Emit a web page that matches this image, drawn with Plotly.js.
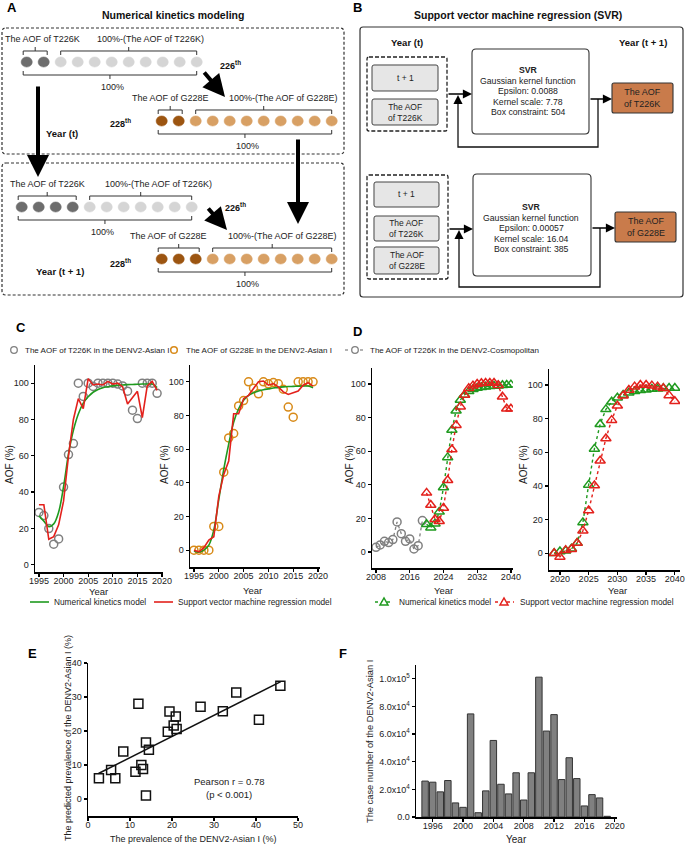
<!DOCTYPE html>
<html>
<head>
<meta charset="utf-8">
<script src="https://cdn.plot.ly/plotly-3.0.1.min.js"></script>
<style>
  html, body { margin: 0; padding: 0; background: #fff; }
  #plot { width: 688px; height: 849px; }
</style>
</head>
<body>
<div id="plot"></div>
<script>
// ---- data ----
var yearsC = [1995, 1996, 1997, 1998, 1999, 2000, 2001, 2002, 2003, 2004, 2005, 2006, 2007,
              2008, 2009, 2010, 2011, 2012, 2013, 2014, 2015, 2016, 2017, 2018, 2019];
var t226kAsian = [28.8, 27.1, 19.9, 11.3, 14.2, 42.8, 60.7, 66.7, 100, 92.7, 100, 98.2, 100,
                  100, 100, 100, 99.5, 98.5, 95.6, 85.1, 80.5, 100, 100, 100, 94.4];
var nkmT226kAsian = [27, 24, 21, 22.5, 29, 43, 61, 74, 83, 89, 92.5, 95, 96.5,
                     97.5, 98, 98.5, 98.8, 99, 99.2, 99.3, 99.4, 99.5, 99.5, 99.5, 97.5];
var svrT226kAsian = [33, 33, 14, 15.5, 22, 35, 60, 80, 91.5, 86, 102.5, 99, 99.5,
                     99, 101, 99.5, 100, 98, 88.5, 92, 95.5, 81, 98.5, 101, 96];
var g228eAsian = [0, 0, 0, 0, 14.1, 14.1, 46.3, 66.7, 69.3, 85.7, 88.9, 100, 96.2,
                  92.9, 100, 98.8, 99.6, 98.8, 95.6, 85, 79, 100, 100, 100, 100];
var nkmG228eAsian = [-0.5, -1.2, 0, 3, 12, 30, 48, 63, 76, 84, 89, 92, 93.5,
                     94.5, 95.3, 95.8, 96.3, 96.7, 97, 97.2, 97.3, 97.4, 97.5, 97.5, 96.5];
var svrG228eAsian = [0, -1, 1.5, 6, 8, 32, 45, 53, 81, 81, 90, 92, 96,
                     100, 100.5, 98, 99, 97, 94, 92.5, 93.5, 94.5, 98, 99.5, 97.5];

var yearsDObs = [2008, 2009, 2010, 2011, 2012, 2013, 2014, 2015, 2016, 2017, 2018, 2019];
var t226kCosmo = [2.8, 4.2, 6.4, 5.6, 7.4, 17.9, 10.9, 6.4, 7.8, 1.8, 3.8, 18.7];
var yearsDFore = [2020, 2021, 2022, 2023, 2024, 2025, 2026, 2027, 2028, 2029, 2030,
                  2031, 2032, 2033, 2034, 2035, 2036, 2037, 2038, 2039, 2040];
var nkmT226kCosmo = [16.5, 14.5, 16.9, 23.9, 38.4, 56.3, 72.6, 84.1, 90.5, 93.4, 95.6,
                     96.8, 97.6, 98, 98.4, 98.6, 98.8, 99, 99.2, 99.4, 99.6];
var svrT226kCosmo = [35.2, 28, 19.5, 18.3, 26.2, 42.7, 61, 75.5, 86.5, 93.4, 97.4,
                     99, 100, 100.4, 100.6, 100.6, 100.6, 99.2, 92.4, 85.3, 85.3];
var yearsDG = [2019, 2020, 2021, 2022, 2023, 2024, 2025, 2026, 2027, 2028, 2029, 2030,
               2031, 2032, 2033, 2034, 2035, 2036, 2037, 2038, 2039, 2040];
var nkmG228eCosmo = [0, 1, 1.4, 2.6, 6, 18.3, 40.6, 62, 76.7, 85.5, 90, 92.4,
                     94, 95.4, 96.2, 96.8, 97.2, 97.6, 97.8, 98, 98.2, 98.2];
var svrG228eCosmo = [0, -2.2, 1.8, 2.4, 6, 13.3, 25.4, 40.2, 55, 68.2, 79.1, 87.7,
                     93.6, 97, 99, 100, 100, 99.6, 99, 98, 93.8, 90.3];

var prevObserved = [2.6, 5.5, 6.5, 8.4, 12.0, 12.7, 13.1, 11.3, 13.8, 14.5, 13.8, 19.0,
                    19.4, 20.9, 20.4, 21.1, 26.8, 32.1, 35.3, 40.7, 45.8];
var prevPredicted = [6.1, 8.5, 6.1, 14.0, 28.0, 10.0, 8.8, 8.0, 16.6, 14.5, 1.0, 19.8,
                     25.7, 24.3, 21.6, 20.6, 27.1, 25.8, 31.3, 23.3, 33.3];
var fitX = [2.5, 45.9];
var fitY = [7.5, 34.5];

var caseYears = [1995, 1996, 1997, 1998, 1999, 2000, 2001, 2002, 2003, 2004, 2005, 2006, 2007,
                 2008, 2009, 2010, 2011, 2012, 2013, 2014, 2015, 2016, 2017, 2018, 2019];
var caseCounts = [26000, 25200, 18200, 26400, 10200, 7000, 74600, 3100, 18900, 55400, 23700, 16700, 32000,
                  12300, 32000, 101200, 62200, 74100, 27100, 42900, 27800, 8000, 16200, 13800, 500];
var caseTickVals = [0, 20000, 40000, 60000, 80000, 100000];
var caseTickText = ['0.0', '2.0x10<sup>4</sup>', '4.0x10<sup>4</sup>', '6.0x10<sup>4</sup>',
                    '8.0x10<sup>4</sup>', '1.0x10<sup>5</sup>'];

// ---- helpers (page pixels -> paper) ----
var W = 688, H = 849;
var FONT = 'Arial, "Liberation Sans", sans-serif';
var GREEN = '#1f9a1f', RED = '#e3211c', GRAY = '#808080', ORANGE = '#d88a18';
function X(p) { return p / W; }
function Y(p) { return 1 - p / H; }
function pt(x, y) { return X(x).toFixed(5) + ',' + Y(y).toFixed(5); }

var shapes = [];
var notes = [];

function label(x, y, s, size, opt) {
  opt = opt || {};
  notes.push({xref: 'paper', yref: 'paper', x: X(x), y: Y(y), text: s, showarrow: false,
    xanchor: opt.anchor || 'center', yanchor: 'middle', textangle: opt.angle || 0, align: 'center',
    font: {family: FONT, size: size, color: opt.color || '#222'}});
}
function poly(pts, color, width, dash) {
  shapes.push({type: 'path', xref: 'paper', yref: 'paper', layer: 'above',
    path: 'M' + pts.map(function (p) { return pt(p[0], p[1]); }).join(' L'),
    line: {color: color || '#222', width: width || 1, dash: dash || 'solid'}});
}
function roundRect(x0, y0, x1, y1, r, color, width, dash, fill) {
  var d = 'M' + pt(x0 + r, y0) + ' L' + pt(x1 - r, y0) + ' Q' + pt(x1, y0) + ' ' + pt(x1, y0 + r) +
    ' L' + pt(x1, y1 - r) + ' Q' + pt(x1, y1) + ' ' + pt(x1 - r, y1) +
    ' L' + pt(x0 + r, y1) + ' Q' + pt(x0, y1) + ' ' + pt(x0, y1 - r) +
    ' L' + pt(x0, y0 + r) + ' Q' + pt(x0, y0) + ' ' + pt(x0 + r, y0) + ' Z';
  shapes.push({type: 'path', xref: 'paper', yref: 'paper', path: d, fillcolor: fill || 'rgba(0,0,0,0)',
    line: {color: color, width: width, dash: dash || 'solid'}});
}
function ellipse(cx, cy, rx, ry, fill, color, lw) {
  shapes.push({type: 'circle', xref: 'paper', yref: 'paper', x0: X(cx - rx), x1: X(cx + rx),
    y0: Y(cy + ry), y1: Y(cy - ry), fillcolor: fill, line: {color: color, width: lw}});
}
function arrow(tx, ty, fx, fy, width, size, head) {
  notes.push({xref: 'paper', yref: 'paper', x: X(tx), y: Y(ty), ax: fx - tx, ay: fy - ty,
    axref: 'pixel', ayref: 'pixel', text: '', showarrow: true, arrowhead: head, arrowwidth: width,
    arrowsize: size, arrowcolor: '#000', standoff: 0, startstandoff: 0});
}
function triangle(cx, cy, color) {
  shapes.push({type: 'path', xref: 'paper', yref: 'paper',
    path: 'M' + pt(cx - 4, cy + 3) + ' L' + pt(cx + 4, cy + 3) + ' L' + pt(cx, cy - 4) + ' Z',
    fillcolor: '#fff', line: {color: color, width: 1.5}});
}

// ---- panel A: numerical kinetics schematic ----
label(12, 8, '<b>A</b>', 13, {color: '#000'});
label(173, 15, '<b>Numerical kinetics modeling</b>', 10.5, {color: '#111'});
roundRect(2, 28, 344, 154, 4, '#333', 1.2, '3px,2px');
roundRect(2, 163, 344, 295, 4, '#333', 1.2, '3px,2px');

var beadRows = [
  {x0: 26.7, cy: 62, dark: 2, n: 11, c1: '#6d6d6d', c2: '#d5d5d5', name: 'T226K', lx: 42, rx: 150, bx: 112},
  {x0: 161.7, cy: 121, dark: 2, n: 11, c1: '#9c5511', c2: '#d8a064', name: 'G228E', lx: 170, rx: 283, bx: 248},
  {x0: 21.7, cy: 207, dark: 4, n: 11, c1: '#6d6d6d', c2: '#d5d5d5', name: 'T226K', lx: 47, rx: 158, bx: 103},
  {x0: 161.7, cy: 259, dark: 3, n: 11, c1: '#9c5511', c2: '#d8a064', name: 'G228E', lx: 168, rx: 282, bx: 248}
];
beadRows.forEach(function (r) {
  var step = 17;
  for (var i = 0; i < r.n; i++) {
    var c = i < r.dark ? r.c1 : r.c2;
    ellipse(r.x0 + i * step, r.cy, 5.6, 5.1, c, c, 0.5);
  }
  var lastDark = r.x0 + (r.dark - 1) * step, firstLight = r.x0 + r.dark * step;
  var last = r.x0 + (r.n - 1) * step;
  var ty = r.cy - 11, by = r.cy + 13;
  // brackets over the two groups
  [[r.x0 - 3.5, lastDark + 3.5], [firstLight, last]].forEach(function (g) {
    var m = (g[0] + g[1]) / 2;
    poly([[g[0], ty + 4], [g[0], ty], [g[1], ty], [g[1], ty + 4]], '#333', 1);
    poly([[m, ty], [m, ty - 4]], '#333', 1);
  });
  var mb = (r.x0 - 3.5 + last) / 2;
  poly([[r.x0 - 3.5, by - 4], [r.x0 - 3.5, by], [last, by], [last, by - 4]], '#333', 1);
  poly([[mb, by], [mb, by + 4]], '#333', 1);
  label(r.lx, r.cy - 23, 'The AOF of ' + r.name, 9);
  label(r.rx, r.cy - 23, '100%-(The AOF of ' + r.name + ')', 9);
  label(r.bx, r.cy + 25, '100%', 9);
});
label(230, 65, '<b>226<sup>th</sup></b>', 9, {color: '#111'});
label(235, 207, '<b>226<sup>th</sup></b>', 9, {color: '#111'});
label(120, 123, '<b>228<sup>th</sup></b>', 9, {color: '#111'});
label(120, 263, '<b>228<sup>th</sup></b>', 9, {color: '#111'});
label(62, 133, '<b>Year (t)</b>', 9.5, {color: '#111'});
label(60, 271, '<b>Year (t + 1)</b>', 9.5, {color: '#111'});
arrow(225, 97, 203, 71, 4, 1.1, 2);
arrow(38, 177, 38, 85, 4, 1.1, 2);
arrow(298, 224, 298, 138, 4, 1.1, 2);
arrow(227, 230, 207, 207, 4, 1.1, 2);

// ---- panel B: SVR schematic ----
label(357, 8, '<b>B</b>', 13, {color: '#000'});
label(518, 15, '<b>Support vector machine regression (SVR)</b>', 10.5, {color: '#111'});
roundRect(360, 27, 683, 297, 3, '#333', 1.2);
label(407, 42, '<b>Year (t)</b>', 9.5, {color: '#111'});
label(643, 42, '<b>Year (t + 1)</b>', 9.5, {color: '#111'});
roundRect(367, 57, 447, 131, 2, '#222', 1.3, '4px,2px');
roundRect(367, 175, 448, 279, 2, '#222', 1.3, '4px,2px');
var inputBoxes = [
  [372, 65, 438, 91, 't + 1'], [372, 99, 438, 125, 'The AOF<br>of T226K'],
  [374, 182, 439, 207, 't + 1'], [374, 216, 439, 241, 'The AOF<br>of T226K'],
  [374, 247, 439, 274, 'The AOF<br>of G228E']
];
inputBoxes.forEach(function (b) {
  roundRect(b[0], b[1], b[2], b[3], 2, '#444', 1, 'solid', '#e6e6e6');
  label((b[0] + b[2]) / 2, (b[1] + b[3]) / 2, b[4], 8.5);
});
roundRect(472, 49, 589, 134, 4, '#333', 1.1, 'solid', '#fff');
roundRect(473, 174, 591, 276, 4, '#333', 1.1, 'solid', '#fff');
roundRect(612, 83, 673, 113, 2, '#333', 1.1, 'solid', '#c97b4b');
roundRect(615, 212, 676, 242, 2, '#333', 1.1, 'solid', '#c97b4b');
label(642.5, 98, 'The AOF<br>of T226K', 9);
label(645.5, 227, 'The AOF<br>of G228E', 9);
var svrText = [
  [528, 70, ['<b>SVR</b>', 'Gaussian kernel function', 'Epsilon: 0.0088', 'Kernel scale: 7.78', 'Box constraint: 504']],
  [531, 207, ['<b>SVR</b>', 'Gaussian kernel function', 'Epsilon: 0.00057', 'Kernel scale: 16.04', 'Box constraint: 385']]
];
svrText.forEach(function (s) {
  s[2].forEach(function (t, i) { label(s[0], s[1] + i * 10.6, t, 8.7); });
});
// flow arrows
arrow(472, 94, 447, 94, 1.3, 1.4, 2);
arrow(612, 99, 589, 99, 1.3, 1.4, 2);
poly([[598, 99], [598, 147], [458, 147], [458, 100]], '#111', 1.3);
arrow(458, 95, 458, 104, 1.3, 1.4, 2);
arrow(473, 229, 448, 229, 1.3, 1.4, 2);
arrow(615, 228, 591, 228, 1.3, 1.4, 2);
poly([[600, 228], [600, 287], [459, 287], [459, 236]], '#111', 1.3);
arrow(459, 230, 459, 240, 1.3, 1.4, 2);

// ---- panel labels, titles and legends for C-F ----
label(21, 327, '<b>C</b>', 13, {color: '#000'});
label(357, 331, '<b>D</b>', 13, {color: '#000'});
label(32, 653, '<b>E</b>', 13, {color: '#000'});
label(343, 653, '<b>F</b>', 13, {color: '#000'});

ellipse(14, 350, 3.3, 3.3, '#fff', GRAY, 1.3);
label(23, 350, 'The AOF of T226K in the DENV2-Asian I', 8, {anchor: 'left'});
ellipse(174, 350, 3.3, 3.3, '#fff', ORANGE, 1.5);
label(184, 350, 'The AOF of G228E in the DENV2-Asian I', 8, {anchor: 'left'});
poly([[345, 350], [350, 350]], GRAY, 1.2, 'dot');
poly([[360, 350], [365, 350]], GRAY, 1.2, 'dot');
ellipse(355, 350, 3.3, 3.3, '#fff', GRAY, 1.3);
label(368, 350, 'The AOF of T226K in the DENV2-Cosmopolitan', 8, {anchor: 'left'});

poly([[30, 602], [49, 602]], GREEN, 1.6);
label(52, 602, 'Numerical kinetics model', 8.3, {anchor: 'left'});
poly([[154, 602], [173, 602]], RED, 1.6);
label(176, 602, 'Support vector machine regression model', 8.3, {anchor: 'left'});
poly([[375, 602], [393, 602]], GREEN, 1.4, 'dot');
triangle(384, 602, GREEN);
label(397, 602, 'Numerical kinetics model', 8.3, {anchor: 'left'});
poly([[495, 602], [514, 602]], RED, 1.4, 'dot');
triangle(504, 602, RED);
label(518, 602, 'Support vector machine regression model', 8.3, {anchor: 'left'});

label(9, 465, 'AOF (%)', 10, {angle: -90});
label(164, 465, 'AOF (%)', 10, {angle: -90});
label(349, 465, 'AOF (%)', 10, {angle: -90});
label(523, 465, 'AOF (%)', 10, {angle: -90});
label(98, 591, 'Year', 9.5);
label(252, 590, 'Year', 9.5);
label(443, 590, 'Year', 9.5);
label(617, 590, 'Year', 9.5);
label(68, 738, 'The predicted prevalence of the DENV2-Asian I (%)', 9, {angle: -90});
label(193, 839, 'The prevalence of the DENV2-Asian I (%)', 9);
label(229, 781, 'Pearson r = 0.78', 9.5);
label(229, 794, '(p &lt; 0.001)', 9.5);
label(370, 741, 'The case number of the DENV2-Asian I', 9.3, {angle: -90});
label(516, 839, 'Year', 10);

// ---- traces ----
var circ = function (c) { return {symbol: 'circle-open', size: 8, line: {width: 1.5, color: c}, color: c}; };
var tri = function (c) { return {symbol: 'triangle-up-open', size: 9, line: {width: 1.5, color: c}, color: c}; };

var data = [
  {x: yearsC, y: t226kAsian, type: 'scatter', mode: 'markers', marker: circ(GRAY), xaxis: 'x', yaxis: 'y'},
  {x: yearsC, y: nkmT226kAsian, type: 'scatter', mode: 'lines', line: {color: GREEN, width: 1.6, shape: 'spline'}, xaxis: 'x', yaxis: 'y'},
  {x: yearsC, y: svrT226kAsian, type: 'scatter', mode: 'lines', line: {color: RED, width: 1.6}, xaxis: 'x', yaxis: 'y'},

  {x: yearsC, y: g228eAsian, type: 'scatter', mode: 'markers', marker: circ(ORANGE), xaxis: 'x2', yaxis: 'y2'},
  {x: yearsC, y: nkmG228eAsian, type: 'scatter', mode: 'lines', line: {color: GREEN, width: 1.6, shape: 'spline'}, xaxis: 'x2', yaxis: 'y2'},
  {x: yearsC, y: svrG228eAsian, type: 'scatter', mode: 'lines', line: {color: RED, width: 1.6}, xaxis: 'x2', yaxis: 'y2'},

  {x: yearsDObs, y: t226kCosmo, type: 'scatter', mode: 'lines+markers', marker: circ(GRAY),
   line: {color: GRAY, width: 1.3, dash: 'dot'}, xaxis: 'x3', yaxis: 'y3'},
  {x: yearsDFore, y: nkmT226kCosmo, type: 'scatter', mode: 'lines+markers', marker: tri(GREEN),
   line: {color: GREEN, width: 1.4, dash: 'dot'}, xaxis: 'x3', yaxis: 'y3'},
  {x: yearsDFore, y: svrT226kCosmo, type: 'scatter', mode: 'lines+markers', marker: tri(RED),
   line: {color: RED, width: 1.4, dash: 'dot'}, xaxis: 'x3', yaxis: 'y3'},

  {x: yearsDG, y: nkmG228eCosmo, type: 'scatter', mode: 'lines+markers', marker: tri(GREEN),
   line: {color: GREEN, width: 1.4, dash: 'dot'}, xaxis: 'x4', yaxis: 'y4'},
  {x: yearsDG, y: svrG228eCosmo, type: 'scatter', mode: 'lines+markers', marker: tri(RED),
   line: {color: RED, width: 1.4, dash: 'dot'}, xaxis: 'x4', yaxis: 'y4'},

  {x: prevObserved, y: prevPredicted, type: 'scatter', mode: 'markers',
   marker: {symbol: 'square-open', size: 9, line: {width: 1.5, color: '#111'}, color: '#111'}, xaxis: 'x5', yaxis: 'y5'},
  {x: fitX, y: fitY, type: 'scatter', mode: 'lines', line: {color: '#111', width: 1.5}, xaxis: 'x5', yaxis: 'y5'},

  {x: caseYears, y: caseCounts, type: 'bar', width: 0.85,
   marker: {color: '#808080', line: {color: '#333', width: 1}}, xaxis: 'x6', yaxis: 'y6'}
];

function axis(extra) {
  return Object.assign({
    showline: true, linecolor: '#000', linewidth: 1.5, ticks: 'outside', ticklen: 3,
    tickwidth: 1.3, tickcolor: '#000', showgrid: false, zeroline: false, fixedrange: true,
    tickfont: {family: FONT, size: 9, color: '#222'}
  }, extra);
}
var aofTicks = [0, 20, 40, 60, 80, 100];
var xs = -3;

var layout = {
  width: W, height: H,
  margin: {l: 0, r: 0, t: 0, b: 0},
  paper_bgcolor: '#fff', plot_bgcolor: 'rgba(0,0,0,0)',
  showlegend: false,
  font: {family: FONT},
  xaxis: axis({domain: [X(35), X(163)], range: [1994.2, 2020.2], anchor: 'y', tick0: 1995, dtick: 5, ticklabelstandoff: xs}),
  yaxis: axis({domain: [Y(572), Y(365)], range: [-4, 110], anchor: 'x', tickvals: aofTicks}),
  xaxis2: axis({domain: [X(190), X(320)], range: [1994.2, 2020.4], anchor: 'y2', tick0: 1995, dtick: 5, ticklabelstandoff: xs}),
  yaxis2: axis({domain: [Y(567), Y(365)], range: [-10, 110], anchor: 'x2', tickvals: aofTicks}),
  xaxis3: axis({domain: [X(372), X(513)], range: [2007.05, 2040.5], anchor: 'y3', tickvals: [2008, 2016, 2024, 2032, 2040], ticklabelstandoff: xs}),
  yaxis3: axis({domain: [Y(568), Y(368)], range: [-9.5, 109.5], anchor: 'x3', tickvals: aofTicks}),
  xaxis4: axis({domain: [X(549), X(680)], range: [2018.1, 2040.9], anchor: 'y4', tick0: 2020, dtick: 5, ticklabelstandoff: xs}),
  yaxis4: axis({domain: [Y(570), Y(369)], range: [-10, 109.5], anchor: 'x4', tickvals: aofTicks}),
  xaxis5: axis({domain: [X(88), X(298)], range: [0, 50], anchor: 'y5', dtick: 10, ticklabelstandoff: xs}),
  yaxis5: axis({domain: [Y(816), Y(663)], range: [-5, 40], anchor: 'x5', tickvals: [0, 10, 20, 30, 40]}),
  xaxis6: axis({domain: [X(416), X(617)], range: [1993.8, 2020.3], anchor: 'y6', tick0: 1996, dtick: 4, ticklabelstandoff: xs}),
  yaxis6: axis({domain: [Y(817), Y(665)], range: [0, 110000], anchor: 'x6',
                tickvals: caseTickVals, ticktext: caseTickText}),
  shapes: shapes,
  annotations: notes
};

Plotly.newPlot('plot', data, layout, {displayModeBar: false, staticPlot: true});
</script>
</body>
</html>
